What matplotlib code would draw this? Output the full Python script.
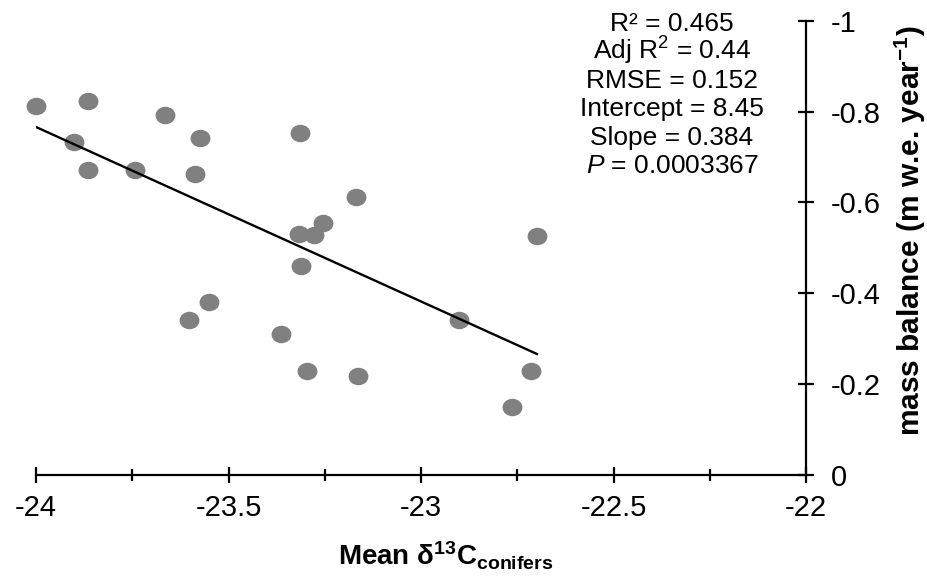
import matplotlib.pyplot as plt
import numpy as np
from matplotlib.path import Path
from matplotlib.ticker import MultipleLocator, FuncFormatter

plt.rcParams['font.family'] = ['Liberation Sans', 'DejaVu Sans']
plt.rcParams['mathtext.fontset'] = 'custom'
plt.rcParams['mathtext.default'] = 'regular'
plt.rcParams['mathtext.rm'] = 'Liberation Sans'
plt.rcParams['mathtext.it'] = 'Liberation Sans:italic'
plt.rcParams['mathtext.bf'] = 'Liberation Sans:bold'
plt.rcParams['axes.unicode_minus'] = False

# mean d13C of conifers and glacier mass balance
d13c = [-24.00, -23.864, -23.901, -23.864, -23.744, -23.664, -23.574, -23.588,
        -23.314, -23.168, -23.255, -23.316, -23.278, -23.311, -23.551, -23.603,
        -23.364, -23.295, -23.164, -22.699, -22.901, -22.715, -22.764]
mass_balance = [-0.812, -0.823, -0.733, -0.671, -0.671, -0.792, -0.741, -0.663,
                -0.753, -0.612, -0.555, -0.530, -0.529, -0.459, -0.380, -0.341,
                -0.310, -0.230, -0.219, -0.525, -0.341, -0.230, -0.149]

# linear fit
intercept = 8.45
slope = 0.384

stats_lines = [
    'R\u00b2 = 0.465',
    'Adj R$^{2}$ = 0.44',
    'RMSE = 0.152',
    f'Intercept = {intercept}',
    f'Slope = {slope}',
    r'$\mathit{P}$ = 0.0003367',
]


def tick_text(v, pos):
    return f'{round(v, 3) + 0.0:g}'


fig = plt.figure(figsize=(9.27, 5.81), dpi=100)
ax = fig.add_axes([36 / 927, 1 - 475 / 581, 770 / 927, 454.3 / 581])

# slightly flattened round dots
circle = Path.unit_circle()
dot = Path(circle.vertices * [1.0, 0.88], circle.codes)
ax.plot(d13c, mass_balance, linestyle='none', marker=dot, markersize=14.3,
        color='#808080', markeredgewidth=0, clip_on=False, zorder=2)

x_fit = np.array([min(d13c), max(d13c)])
ax.plot(x_fit, intercept + slope * x_fit, color='black', linewidth=1.7, zorder=3)

ax.set_xlim(-24, -22)
ax.set_ylim(0, -1)
ax.spines[['top', 'left']].set_visible(False)
ax.spines[['bottom', 'right']].set_linewidth(1.6)
ax.yaxis.tick_right()

ax.xaxis.set_major_locator(MultipleLocator(0.5))
ax.xaxis.set_minor_locator(MultipleLocator(0.25))
ax.yaxis.set_major_locator(MultipleLocator(0.2))
ax.xaxis.set_major_formatter(FuncFormatter(tick_text))
ax.yaxis.set_major_formatter(FuncFormatter(tick_text))

ax.tick_params(which='both', direction='inout', width=1.6, labelsize=21)
ax.tick_params(which='major', length=11.5)
ax.tick_params(which='minor', length=8.5)
ax.tick_params(axis='x', pad=8)
ax.tick_params(axis='y', pad=12)

for i, line in enumerate(stats_lines):
    ax.text(0.826, (475 - 31 - 28.4 * i) / 454.3, line, transform=ax.transAxes,
            ha='center', va='baseline', fontsize=19)

ax.text(0.532, -0.2003, 'Mean \u03b4$^{13}$C$_{conifers}$', transform=ax.transAxes,
        ha='center', va='baseline', fontsize=20, fontweight='bold')
ax.text(1.135, 0.537, 'mass balance (m w.e. year$^{-1}$)', transform=ax.transAxes,
        ha='center', va='center', rotation=90, fontsize=21.5, fontweight='bold')

fig.savefig('out.png', dpi=100)
